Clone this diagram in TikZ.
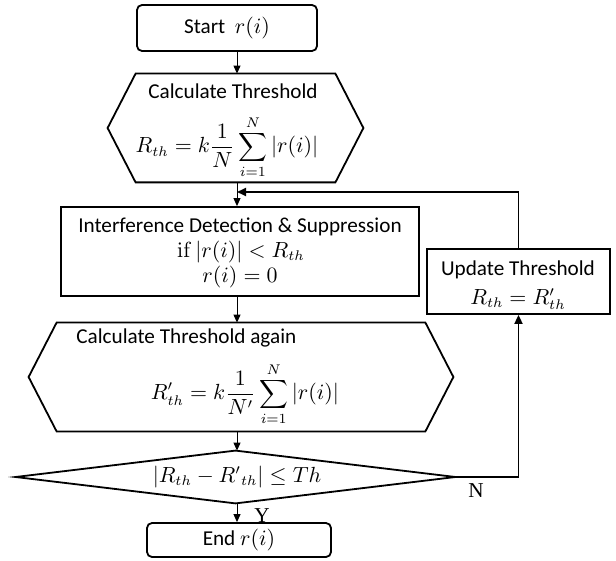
\documentclass[tikz,border=0pt]{standalone}
\usepackage[no-math]{fontspec}
\setmainfont{Carlito}
\newfontfamily\serifN{Liberation Serif}
\usetikzlibrary{arrows.meta,calc}
\newcommand\myfs{\fontsize{10.6}{12.7}\selectfont}
\begin{document}
\begin{tikzpicture}[x=0.5pt,y=-0.5pt,
  box/.style={draw, line width=0.9pt, inner sep=0pt},
  rbox/.style={box, rounded corners=2.5pt},
  ghost/.style={inner sep=0pt},
  shapeline/.style={line width=0.9pt, line join=miter},
  txt/.style={font=\myfs, inner sep=0pt, align=center},
  arr/.style={line width=0.5pt, -{Triangle[length=4pt,width=3.5pt]}},
  fbarr/.style={line width=0.9pt, -{Triangle[length=4.5pt,width=4pt]}},
  lab/.style={font=\serifN\myfs, inner sep=0pt}]
\useasboundingbox (0,0) rectangle (616,561);
\coordinate (axis) at (237,0);

% Start
\node[rbox, minimum width=90pt, minimum height=23pt, font=\myfs] (start) at (227,28) {Start\ \ $r(i)$};

% Calculate Threshold (hexagon)
\node[ghost, minimum width=99.5pt, minimum height=54pt] (h1) at (235.5,128) {};
\draw[shapeline] (h1.north west) -- (h1.north east) -- ([xshift=14pt]h1.east) -- (h1.south east) -- (h1.south west) -- ([xshift=-14pt]h1.west) -- cycle;
\node[txt] (h1a) at (233,91) {Calculate Threshold};
\node[txt] (h1b) at (227,147) {$\displaystyle R_{th}=k\frac{1}{N}\sum_{i=1}^{N}|r(i)|$};

% Interference detection
\node[box, minimum width=179pt, minimum height=44.5pt] (int) at (240,251.5) {};
\node[txt] (inta) at (240,227) {Interference Detection \& Suppression};
\node[txt] (intb) at (241,252) {$\mathrm{if}\,|r(i)|<R_{th}$};
\node[txt] (intc) at (240,277) {$r(i)=0$};

% Calculate Threshold again (hexagon)
\node[ghost, minimum width=184pt, minimum height=54pt] (h2) at (241,377) {};
\draw[shapeline] (h2.north west) -- (h2.north east) -- ([xshift=14pt]h2.east) -- (h2.south east) -- (h2.south west) -- ([xshift=-14pt]h2.west) -- cycle;
\node[txt, anchor=west] (h2a) at (76,338) {Calculate Threshold again};
\node[txt] (h2b) at (245,394) {$\displaystyle R'_{th}=k\frac{1}{N'}\sum_{i=1}^{N}|r(i)|$};

% Decision
\node[ghost, minimum width=219.5pt, minimum height=26pt] (dec) at (235.5,477) {};
\draw[shapeline] (dec.north) -- (dec.east) -- (dec.south) -- (dec.west) -- cycle;
\node[txt] (deca) at (237,477) {$|R_{th}-R^{\prime}{}_{th}|\leq Th$};

% End
\node[rbox, minimum width=92pt, minimum height=17pt, font=\myfs] (end) at (239,540) {End $r(i)$};

% Update threshold
\node[box, minimum width=91.5pt, minimum height=32.5pt] (upd) at (518.5,281.5) {};
\node[txt] (upda) at (518,270) {Update Threshold};
\node[txt] (updb) at (518,299) {$R_{th}=R'_{th}$};

% main connectors
\draw[arr] (start.south -| axis) -- (h1.north -| axis);
\draw[arr] (h1.south -| axis) -- (int.north -| axis);
\draw[arr] (int.south -| axis) -- (h2.north -| axis);
\draw[arr] (h2.south -| axis) -- (dec.north -| axis);
\draw[arr] (dec.south -| axis) -- (end.north -| axis);

% feedback
\coordinate (fb) at (237,192);
\draw[fbarr] (upd.north) |- (fb);
\draw[fbarr] (dec.east) -- (dec.east -| upd.south) -- (upd.south);

% labels
\node[lab] (nlab) at (476,491) {N};
\node[lab] (ylab) at (262,516) {Y};
\end{tikzpicture}
\end{document}
